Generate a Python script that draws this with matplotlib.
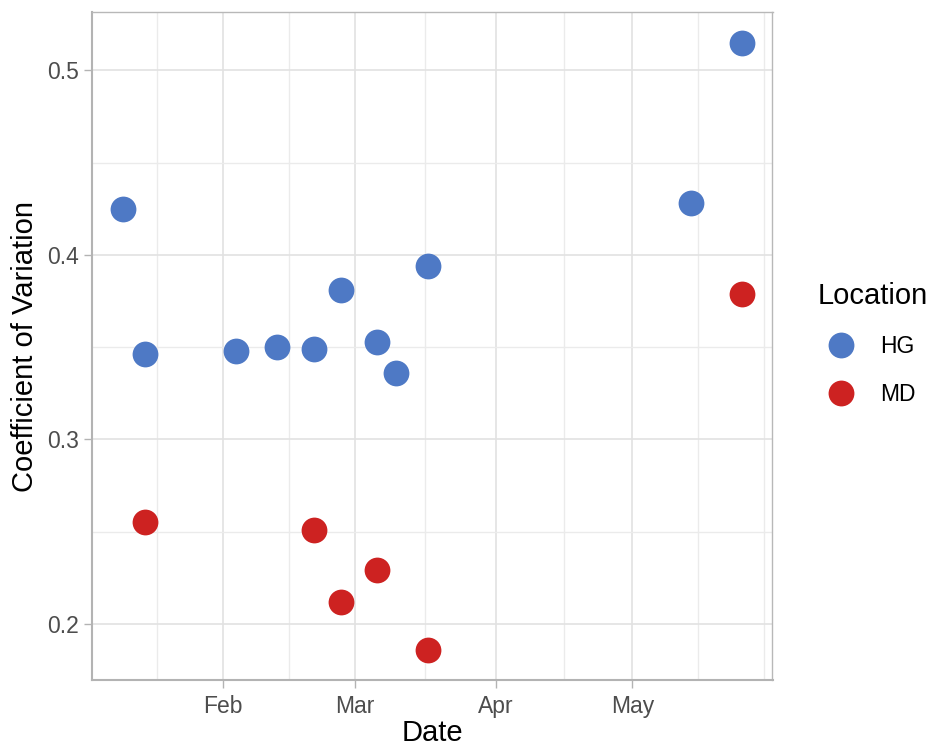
import matplotlib
matplotlib.use('Agg')
import matplotlib.pyplot as plt
import matplotlib.dates as mdates
from matplotlib.lines import Line2D
import numpy as np
import pandas as pd

# ---- data ----
hg_dates = ['2024-01-10', '2024-01-15', '2024-02-04', '2024-02-13', '2024-02-21',
            '2024-02-27', '2024-03-06', '2024-03-10', '2024-03-17', '2024-05-14',
            '2024-05-25']
hg_cv = [0.425, 0.346, 0.348, 0.350, 0.349, 0.381, 0.353, 0.336, 0.394, 0.428, 0.515]
md_dates = ['2024-01-15', '2024-02-21', '2024-02-27', '2024-03-06', '2024-03-17',
            '2024-05-25']
md_cv = [0.255, 0.251, 0.212, 0.229, 0.186, 0.379]
locations = ['HG', 'MD']
x_tick_dates = ['2024-02-01', '2024-03-01', '2024-04-01', '2024-05-01']
x_tick_labels = ['Feb', 'Mar', 'Apr', 'May']
y_ticks = [0.2, 0.3, 0.4, 0.5]
y_tick_labels = ['0.2', '0.3', '0.4', '0.5']

colors = {'HG': '#4E79C5', 'MD': '#CD2221'}

plt.rcParams['font.family'] = ['Liberation Sans', 'DejaVu Sans']

fig = plt.figure(figsize=(9.29, 7.48), dpi=100)
W, H = 929, 748
ax = fig.add_axes([91.7 / W, 68 / H, (772.5 - 91.7) / W, (680 - 12.3) / H])

hg_x = mdates.date2num(pd.to_datetime(hg_dates))
md_x = mdates.date2num(pd.to_datetime(md_dates))

msize = 345
ax.scatter(hg_x, hg_cv, s=msize, color=colors['HG'], linewidths=0, zorder=3)
ax.scatter(md_x, md_cv, s=msize, color=colors['MD'], linewidths=0, zorder=3)

# limits with 5% expansion (ggplot-like)
allx = np.concatenate([hg_x, md_x])
ally = np.array(hg_cv + md_cv)
dx = allx.max() - allx.min()
dy = ally.max() - ally.min()
ax.set_xlim(allx.min() - 0.05 * dx, allx.max() + 0.05 * dx)
ax.set_ylim(ally.min() - 0.05 * dy, ally.max() + 0.05 * dy)

# major ticks
maj = mdates.date2num(pd.to_datetime(x_tick_dates))
ax.set_xticks(maj)
ax.set_xticklabels(x_tick_labels)
ax.set_yticks(y_ticks)
ax.set_yticklabels(y_tick_labels)

# minor breaks (midpoints, ggplot style)
bd = maj[1] - maj[0]
ext = np.concatenate([[maj[0] - bd], maj, [maj[-1] + bd]])
minor_x = list((ext[:-1] + ext[1:]) / 2) + [ext[-1]]
ax.set_xticks(minor_x, minor=True)
yt = np.array(y_ticks)
ax.set_yticks(list((yt[:-1] + yt[1:]) / 2), minor=True)

ax.set_axisbelow(True)
ax.grid(which='major', color='#e2e2e2', linewidth=1.2)
ax.grid(which='minor', color='#ebebeb', linewidth=1.0)

ax.tick_params(which='major', length=5.5, width=1.0, color='#b3b3b3',
               labelsize=16.5, labelcolor='#4d4d4d')
ax.tick_params(axis='x', which='major', pad=5.5)
ax.tick_params(axis='y', which='major', pad=4)
ax.tick_params(which='minor', length=0)

for side in ['top', 'right']:
    ax.spines[side].set_color('#b8b8b8')
    ax.spines[side].set_linewidth(1.0)
for side in ['left', 'bottom']:
    ax.spines[side].set_color('#b3b3b3')
    ax.spines[side].set_linewidth(1.5)

ax.set_xlabel('Date', fontsize=21, color='black', va='bottom')
ax.xaxis.set_label_coords(0.5, -0.1005)
ax.set_ylabel('Coefficient of Variation', fontsize=21, color='black', va='center')
ax.yaxis.set_label_coords(-0.098, 0.5)

handles = [Line2D([], [], marker='o', ls='', markersize=18.6, markeredgewidth=0,
                  color=colors[l]) for l in locations]
leg = ax.legend(handles, locations, title='Location', loc='upper left',
                bbox_to_anchor=(818 / W, (H - 282) / H), bbox_transform=fig.transFigure,
                frameon=False, fontsize=16.5, title_fontsize=21, borderpad=0,
                handlelength=2.0, handletextpad=0.71, labelspacing=1.10,
                alignment='left', borderaxespad=0)

fig.savefig('out.png', dpi=100)
